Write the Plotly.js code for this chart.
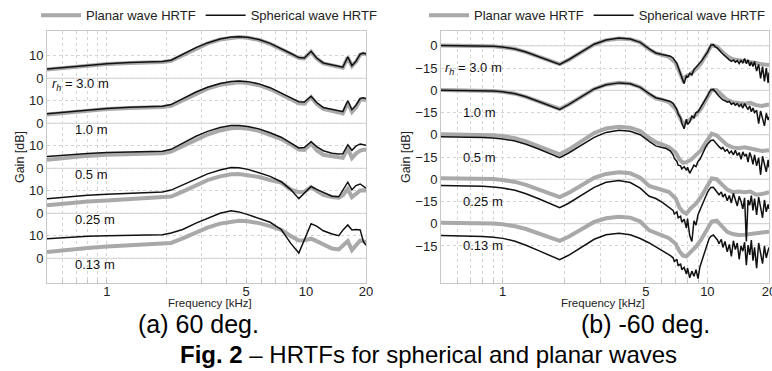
<!DOCTYPE html>
<html><head><meta charset="utf-8">
<script src="https://cdn.plot.ly/plotly-3.0.1.min.js"></script>
<style>html,body{margin:0;padding:0;background:#fff}#chart{width:772px;height:371px}</style>
</head><body><div id="chart"></div>
<script>
// ---------- labels ----------
const bandLabels = ["<i>r</i><sub><i>h</i></sub> = 3.0 m", "1.0 m", "0.5 m", "0.25 m", "0.13 m"];
const legendNames = ["Planar wave HRTF", "Spherical wave HRTF"];
const freqTickVals = [0.6, 0.7, 0.8, 0.9, 1, 2, 3, 4, 5, 6, 7, 8, 9, 10, 20];
const freqTickText = ["", "", "", "", "1", "", "", "", "5", "", "", "", "", "10", "20"];
const gainTickValsA = [0, 10, 20, 30, 40, 50, 60, 70, 80, 90];
const gainTickTextA = ["0", "10", "0", "10", "0", "10", "0", "10", "0", "10"];
const gainTickValsB = [-15, 0, 15, 30, 45, 60, 75, 90, 105, 120];
const gainTickTextB = ["\u221215", "0", "\u221215", "0", "\u221215", "0", "\u221215", "0", "\u221215", "0"];
const offsetsA = [80, 60, 40, 20, 0];
const offsetsB = [120, 90, 60, 30, 0];

// ---------- (a) 60 deg. : frequency [kHz] ----------
const freqA = [0.5, 0.6, 0.8, 1.0, 1.3, 1.6, 1.9, 2.1, 2.4, 2.8, 3.2, 3.7, 4.2, 4.6, 5.1, 5.8, 6.6, 7.5, 8.4, 9.2, 9.8, 10.6, 11.3, 12.2, 13.5, 14.6, 15.3, 16.2, 17.0, 17.8, 18.7, 19.4, 20];
// spherical (black) gains [dB]
const sphA_300 = [4.1, 4.8, 5.9, 6.5, 7.0, 7.3, 7.4, 8.0, 10.5, 13.6, 15.7, 17.4, 18.3, 18.5, 18.2, 17.2, 15.5, 13.3, 11.0, 9.2, 9.0, 12.0, 9.0, 6.8, 6.0, 5.2, 4.9, 9.5, 5.6, 7.5, 10.7, 11.2, 10.8];
const sphA_100 = [4.2, 4.9, 6.0, 6.6, 7.1, 7.4, 7.6, 8.3, 10.8, 13.9, 16.0, 17.7, 18.6, 18.8, 18.5, 17.5, 15.8, 13.6, 11.3, 9.6, 9.4, 12.0, 9.2, 7.0, 6.4, 5.6, 5.2, 10.0, 6.0, 8.0, 11.0, 11.3, 11.0];
const sphA_050 = [5.2, 5.8, 6.6, 7.0, 7.3, 7.5, 7.6, 8.4, 11.0, 14.2, 16.4, 18.1, 19.0, 19.0, 18.6, 17.5, 15.8, 13.8, 11.2, 9.0, 9.2, 11.8, 9.6, 7.8, 6.7, 6.3, 6.4, 10.4, 8.0, 9.8, 10.8, 10.5, 10.2];
const sphA_025 = [6.5, 7.2, 8.0, 8.4, 8.9, 9.2, 9.4, 10.3, 12.5, 15.3, 17.5, 19.2, 20.3, 20.2, 19.5, 18.0, 16.4, 14.0, 10.4, 6.5, 9.0, 11.9, 10.6, 9.2, 7.6, 7.3, 10.5, 13.8, 10.4, 12.3, 13.0, 12.0, 11.2];
const sphA_013 = [8.7, 9.2, 9.8, 10.0, 10.2, 10.4, 10.5, 11.2, 12.8, 15.6, 17.8, 20.0, 21.1, 20.6, 19.4, 17.8, 16.0, 12.8, 6.5, 2.3, 7.9, 15.3, 14.3, 12.2, 10.8, 10.0, 12.5, 14.8, 12.6, 12.8, 12.6, 7.5, 5.8];
// planar (gray) gains [dB]
const plaA_300 = [3.9, 4.6, 5.7, 6.3, 6.8, 7.1, 7.2, 7.8, 10.3, 13.4, 15.5, 17.2, 18.1, 18.3, 18.0, 17.0, 15.3, 13.1, 10.8, 9.0, 8.8, 11.8, 8.8, 6.6, 5.8, 5.0, 4.7, 9.3, 5.4, 7.3, 10.5, 11.0, 10.6];
const plaA_100 = [3.9, 4.6, 5.7, 6.3, 6.8, 7.1, 7.2, 7.8, 10.2, 13.3, 15.4, 17.1, 18.0, 18.2, 17.9, 16.9, 15.2, 13.0, 10.7, 8.9, 8.7, 11.6, 8.6, 6.4, 5.6, 4.8, 4.4, 9.0, 5.0, 7.0, 10.3, 10.6, 10.2];
const plaA_050 = [3.8, 4.5, 5.5, 6.0, 6.4, 6.6, 6.7, 7.4, 9.8, 12.9, 15.0, 16.8, 17.8, 18.0, 17.6, 16.6, 15.0, 13.0, 10.5, 8.3, 8.1, 11.0, 8.0, 6.0, 5.3, 4.8, 4.6, 8.9, 4.5, 6.5, 7.8, 8.2, 8.2];
const plaA_025 = [3.5, 4.2, 5.2, 5.7, 6.2, 6.6, 6.8, 7.4, 9.6, 12.5, 14.7, 16.4, 17.3, 17.4, 17.0, 16.1, 14.8, 13.6, 10.5, 9.4, 9.6, 11.6, 10.0, 8.2, 7.2, 6.9, 8.0, 10.8, 7.2, 8.8, 10.1, 10.2, 10.1];
const plaA_013 = [2.8, 3.6, 4.6, 5.2, 5.7, 6.0, 6.2, 6.8, 8.8, 11.6, 13.6, 15.4, 16.4, 16.7, 16.4, 15.6, 14.3, 12.6, 9.8, 7.9, 8.0, 8.7, 7.6, 6.0, 4.3, 3.9, 5.5, 7.6, 3.6, 5.5, 7.9, 7.5, 7.2];

// ---------- (b) -60 deg. ----------
// planar (gray) frequency grid [kHz]
const freqBp = [0.5, 0.6, 0.7, 0.8, 0.9, 1.0, 1.15, 1.3, 1.5, 1.7, 1.9, 2.1, 2.4, 2.8, 3.2, 3.7, 4.2, 4.7, 5.2, 5.6, 6.0, 6.5, 7.0, 7.3, 7.6, 7.9, 8.3, 8.8, 9.3, 9.8, 10.5, 11.1, 11.8, 12.5, 13.3, 14.2, 15.2, 16.2, 17.3, 18.5, 20];
const plaB_300 = [0.3, 0.3, 0.2, 0.0, -0.3, -0.9, -2.2, -4.3, -7.5, -10.3, -12.4, -9.5, -4.5, 1.0, 3.8, 5.0, 4.5, 2.3, -2.4, -5.0, -6.0, -7.5, -11.5, -17.0, -23.0, -20.5, -19.0, -15.5, -12.0, -6.5, 0.5, -0.5, -4.0, -7.0, -9.0, -9.5, -10.0, -11.0, -11.5, -12.5, -13.0];
const plaB_100 = [0.2, 0.2, 0.1, -0.1, -0.4, -1.0, -2.3, -4.4, -7.6, -10.4, -12.6, -9.6, -4.6, 0.9, 3.8, 5.1, 4.5, 2.1, -2.6, -5.4, -6.4, -8.0, -12.5, -18.0, -22.5, -21.5, -19.5, -16.5, -12.5, -7.0, 0.3, 0.0, -3.5, -6.5, -8.0, -8.5, -9.0, -8.5, -10.0, -10.5, -9.5];
const plaB_050 = [0.3, 0.3, 0.2, 0.0, -0.3, -0.9, -2.3, -4.5, -7.8, -10.8, -13.2, -10.0, -4.7, 1.2, 4.2, 5.4, 4.8, 2.5, -2.2, -5.0, -6.5, -8.5, -12.0, -16.5, -19.0, -18.5, -17.0, -14.0, -10.5, -5.5, 0.8, -0.5, -4.0, -7.0, -8.5, -9.0, -8.5, -9.5, -10.0, -11.0, -10.5];
const plaB_025 = [0.7, 0.7, 0.6, 0.4, 0.1, -0.5, -1.8, -3.8, -7.0, -9.8, -12.1, -9.2, -4.2, 1.0, 3.6, 4.7, 4.0, 1.0, -4.5, -6.0, -7.0, -8.7, -13.0, -19.0, -22.0, -23.2, -19.5, -16.5, -12.0, -7.0, 0.5, 0.0, -3.5, -7.0, -8.7, -8.3, -8.7, -8.3, -10.5, -10.0, -8.7];
const plaB_013 = [0.7, 0.7, 0.6, 0.4, 0.1, -0.4, -1.7, -3.6, -6.7, -9.4, -11.6, -8.8, -3.9, 1.2, 3.7, 4.7, 4.1, 1.5, -4.5, -6.5, -7.8, -9.8, -13.5, -18.5, -21.5, -22.0, -19.0, -15.5, -11.0, -5.5, 1.5, 2.0, -2.0, -5.5, -7.0, -7.6, -7.5, -7.0, -6.5, -6.0, -5.4];
// spherical (black) frequency grid [kHz]
const freqBs = [0.5, 0.6, 0.7, 0.8, 0.9, 1.0, 1.15, 1.3, 1.5, 1.7, 1.9, 2.1, 2.4, 2.8, 3.2, 3.7, 4.2, 4.7, 5.2, 5.6, 6.0, 6.3,
  6.6, 6.8, 6.9, 7.1, 7.2, 7.4, 7.5, 7.7, 7.9, 8.0, 8.2, 8.4, 8.6, 8.8, 9.0, 9.2, 9.4, 9.6, 9.8, 10.0,
  10.2, 10.4, 10.7, 10.9, 11.2, 11.4, 11.7, 11.9, 12.2, 12.5, 12.8, 13.1, 13.4, 13.7, 14.0, 14.3, 14.6, 14.9, 15.2, 15.5,
  15.8, 16.1, 16.4, 16.7, 17.0, 17.4, 17.8, 18.2, 18.6, 19.0, 19.4, 19.8, 20.0];
const sphB_300 = [0.2, 0.2, 0.1, 0.0, -0.3, -0.8, -2.1, -4.2, -7.4, -10.2, -12.5, -9.4, -4.4, 1.1, 3.9, 5.2, 4.6, 2.3, -2.0, -4.8, -5.8, -6.3,
  -7.0, -8.2, -9.5, -12.0, -14.5, -18.5, -21.0, -25.5, -20.0, -21.5, -18.5, -19.5, -16.0, -14.5, -13.0, -11.5, -10.0, -8.0, -6.5, -4.5,
  -2.0, 0.5, 0.8, -0.5, -1.5, -3.0, -4.5, -5.5, -7.0, -8.0, -9.5, -10.5, -9.5, -11.0, -10.0, -12.0, -10.0, -11.5, -8.5, -12.0,
  -9.5, -13.5, -11.0, -14.0, -10.5, -17.0, -12.5, -22.0, -14.0, -24.0, -15.0, -25.0, -18.0];
const sphB_100 = [0.0, 0.0, -0.1, -0.2, -0.5, -1.0, -2.3, -4.4, -7.6, -10.5, -12.9, -9.7, -4.6, 0.9, 3.7, 5.0, 4.4, 2.0, -2.3, -5.0, -6.0, -6.6,
  -7.5, -8.8, -10.5, -13.0, -16.0, -18.5, -22.0, -26.0, -19.5, -23.0, -21.5, -17.5, -18.5, -15.0, -14.5, -12.5, -10.5, -8.5, -6.0, -4.0,
  -1.5, 0.3, 0.6, -1.0, -2.5, -4.0, -5.5, -6.5, -7.0, -8.0, -7.5, -9.5, -8.5, -10.0, -9.0, -11.0, -9.5, -12.0, -9.0, -11.5,
  -13.0, -10.5, -14.5, -12.0, -15.0, -13.5, -22.5, -14.0, -19.0, -24.0, -15.5, -20.0, -18.0];
const sphB_050 = [-1.3, -1.4, -1.6, -1.8, -2.2, -2.8, -4.2, -6.4, -9.6, -12.8, -15.4, -12.3, -7.3, -1.8, 1.6, 3.1, 2.4, 0.0, -4.5, -7.5, -8.6, -9.3,
  -11.0, -13.5, -16.0, -18.0, -20.5, -21.0, -23.0, -21.5, -24.0, -22.0, -26.0, -23.0, -20.5, -21.5, -18.0, -16.5, -13.5, -11.5, -8.5, -6.5,
  -5.0, -3.8, -3.5, -5.0, -6.5, -8.0, -9.5, -8.5, -11.0, -10.0, -12.5, -11.0, -13.5, -10.5, -14.0, -12.0, -16.5, -11.5, -14.5, -13.0,
  -18.5, -12.0, -15.0, -20.0, -13.5, -21.0, -15.5, -27.0, -14.5, -19.0, -25.0, -17.0, -22.0];
const sphB_025 = [-4.2, -4.3, -4.5, -4.8, -5.2, -5.9, -7.5, -9.8, -13.2, -16.5, -19.2, -16.2, -11.2, -5.5, -2.0, -0.9, -2.2, -6.0, -11.5, -13.0, -15.5, -17.5,
  -19.5, -21.0, -23.5, -22.0, -26.0, -25.0, -29.0, -27.0, -33.0, -26.5, -38.0, -42.0, -28.0, -31.0, -24.0, -21.0, -17.0, -14.0, -11.5, -9.0,
  -7.0, -5.5, -5.4, -7.0, -9.0, -10.5, -8.5, -12.0, -10.0, -14.5, -11.0, -16.0, -9.5, -13.5, -18.0, -11.5, -15.0, -20.0, -12.5, -42.0,
  -14.0, -17.5, -11.0, -21.0, -13.0, -24.0, -12.0, -19.0, -26.0, -14.0, -22.0, -17.0, -20.0];
const sphB_013 = [-8.0, -8.1, -8.3, -8.6, -9.1, -9.9, -11.8, -14.5, -18.2, -21.6, -24.3, -21.3, -16.2, -10.5, -7.5, -6.5, -7.5, -10.0, -13.0, -15.5, -18.0, -19.5,
  -21.5, -23.0, -25.5, -24.0, -28.5, -27.0, -31.0, -29.5, -34.0, -30.0, -36.5, -32.0, -35.5, -31.0, -37.0, -29.0, -25.0, -20.0, -16.0, -12.5,
  -10.0, -8.5, -7.6, -9.0, -11.0, -13.5, -10.5, -16.0, -12.0, -19.0, -14.0, -22.0, -11.5, -17.5, -13.0, -24.0, -15.0, -18.5, -12.5, -28.0,
  -14.5, -21.0, -11.0, -25.0, -16.0, -30.0, -13.0, -20.0, -27.0, -15.0, -23.0, -18.0, -16.0];

const sphA = [sphA_300, sphA_100, sphA_050, sphA_025, sphA_013];
const plaA = [plaA_300, plaA_100, plaA_050, plaA_025, plaA_013];
const sphB = [sphB_300, sphB_100, sphB_050, sphB_025, sphB_013];
const plaB = [plaB_300, plaB_100, plaB_050, plaB_025, plaB_013];

// ---------- styling ----------
const FONT = "Liberation Sans, Arial, Helvetica, sans-serif";
const GRAY = "#a9a9a9", BLACK = "#111111";
const W = 772;

const traces = [];
function addPanel(xa, ya, freqP, pla, freqS, sph, offsets, legendId) {
  pla.forEach((arr, i) => traces.push({
    type: "scatter", mode: "lines", x: freqP, y: arr.map(v => v + offsets[i]),
    xaxis: xa, yaxis: ya, line: {color: GRAY, width: 4}, name: legendNames[0],
    legend: legendId, showlegend: i === 0, legendgroup: legendId + "p", hoverinfo: "skip"
  }));
  sph.forEach((arr, i) => traces.push({
    type: "scatter", mode: "lines", x: freqS, y: arr.map(v => v + offsets[i]),
    xaxis: xa, yaxis: ya, line: {color: BLACK, width: 1.5}, name: legendNames[1],
    legend: legendId, showlegend: i === 0, legendgroup: legendId + "s", hoverinfo: "skip"
  }));
}
addPanel("x", "y", freqA, plaA, freqA, sphA, offsetsA, "legend");
addPanel("x2", "y2", freqBp, plaB, freqBs, sphB, offsetsB, "legend2");

const xCommon = {
  type: "log", range: [Math.log10(0.5), Math.log10(20)],
  tickmode: "array", tickvals: freqTickVals, ticktext: freqTickText,
  showgrid: true, gridcolor: "#d4d4d4", griddash: "dot", gridwidth: 1,
  ticks: "inside", ticklen: 3, tickcolor: "#c0c0c0", ticklabelstandoff: -4, ticklabeloverflow: "allow",
  showline: true, mirror: true, linecolor: "#c8c8c8", linewidth: 1,
  zeroline: false, tickfont: {family: FONT, size: 13, color: "#222"}
};
const yCommon = {
  tickmode: "array", showgrid: true, gridcolor: "#d4d4d4", griddash: "dot",
  ticks: "", showline: true, mirror: true, linecolor: "#c8c8c8", linewidth: 1,
  zeroline: false, tickfont: {family: FONT, size: 13, color: "#222"},
  title: {text: "Gain [dB]", font: {family: FONT, size: 12.5, color: "#222"}, standoff: 1}
};

const shapes = [];
offsetsA.forEach(o => shapes.push({type: "line", xref: "x domain", yref: "y", x0: 0, x1: 1, y0: o, y1: o, layer: "below", line: {color: "#d0d0d0", width: 1}}));
offsetsB.forEach(o => shapes.push({type: "line", xref: "x2 domain", yref: "y2", x0: 0, x1: 1, y0: o, y1: o, layer: "below", line: {color: "#d0d0d0", width: 1}}));

const annotations = [];
bandLabels.forEach((t, i) => {
  annotations.push({xref: "x domain", yref: "y", x: i === 0 ? 0.01 : 0.081, y: offsetsA[i] - 2.8, text: t, showarrow: false,
    xanchor: "left", yanchor: "middle", font: {family: FONT, size: 13, color: "#111"}});
  annotations.push({xref: "x2 domain", yref: "y2", x: i === 0 ? 0.006 : 0.062, y: offsetsB[i] - 15, text: t, showarrow: false,
    xanchor: "left", yanchor: "middle", font: {family: FONT, size: 13, color: "#111"}});
});
const H0 = 283, HT = 28; // plot bottom / top in px
const py = p => (H0 - p) / (H0 - HT);
annotations.push({xref: "paper", yref: "paper", x: 210 / W, y: py(303), text: "Frequency [kHz]", showarrow: false,
  xanchor: "center", yanchor: "middle", font: {family: FONT, size: 11.5, color: "#222"}});
annotations.push({xref: "paper", yref: "paper", x: 603 / W, y: py(303), text: "Frequency [kHz]", showarrow: false,
  xanchor: "center", yanchor: "middle", font: {family: FONT, size: 11.5, color: "#222"}});
annotations.push({xref: "paper", yref: "paper", x: 198 / W, y: py(324), text: "(a) 60 deg.", showarrow: false,
  xanchor: "center", yanchor: "middle", font: {family: FONT, size: 25, color: "#000"}});
annotations.push({xref: "paper", yref: "paper", x: 645 / W, y: py(324), text: "(b) -60 deg.", showarrow: false,
  xanchor: "center", yanchor: "middle", font: {family: FONT, size: 25, color: "#000"}});
annotations.push({xref: "paper", yref: "paper", x: 178 / W, y: py(355), text: "<b>Fig. 2</b> \u2013 HRTFs for spherical and planar waves", showarrow: false,
  xanchor: "left", yanchor: "middle", font: {family: FONT, size: 24, color: "#000"}});

const legendCommon = {orientation: "h", xanchor: "left", yanchor: "middle", y: py(12), itemwidth: 40,
  font: {family: FONT, size: 13, color: "#222"}, bgcolor: "rgba(0,0,0,0)", borderwidth: 0, itemclick: false};

const layout = {
  width: 772, height: 371, paper_bgcolor: "#fff", plot_bgcolor: "#fff",
  margin: {l: 0, r: 0, t: HT, b: 371 - H0, pad: 0},
  font: {family: FONT, color: "#222"},
  xaxis: Object.assign({}, xCommon, {domain: [47 / W, 366 / W], anchor: "y"}),
  xaxis2: Object.assign({}, xCommon, {domain: [441 / W, 769 / W], anchor: "y2"}),
  yaxis: Object.assign({}, yCommon, {domain: [0, 1], anchor: "x", range: [-11, 101], tickvals: gainTickValsA, ticktext: gainTickTextA}),
  yaxis2: Object.assign({}, yCommon, {domain: [0, 1], anchor: "x2", range: [-40, 130], tickvals: gainTickValsB, ticktext: gainTickTextB}),
  legend: Object.assign({}, legendCommon, {x: 36 / W}),
  legend2: Object.assign({}, legendCommon, {x: 424 / W}),
  shapes: shapes, annotations: annotations, showlegend: true
};

Plotly.newPlot("chart", traces, layout, {displayModeBar: false, staticPlot: true});
</script>
</body></html>
